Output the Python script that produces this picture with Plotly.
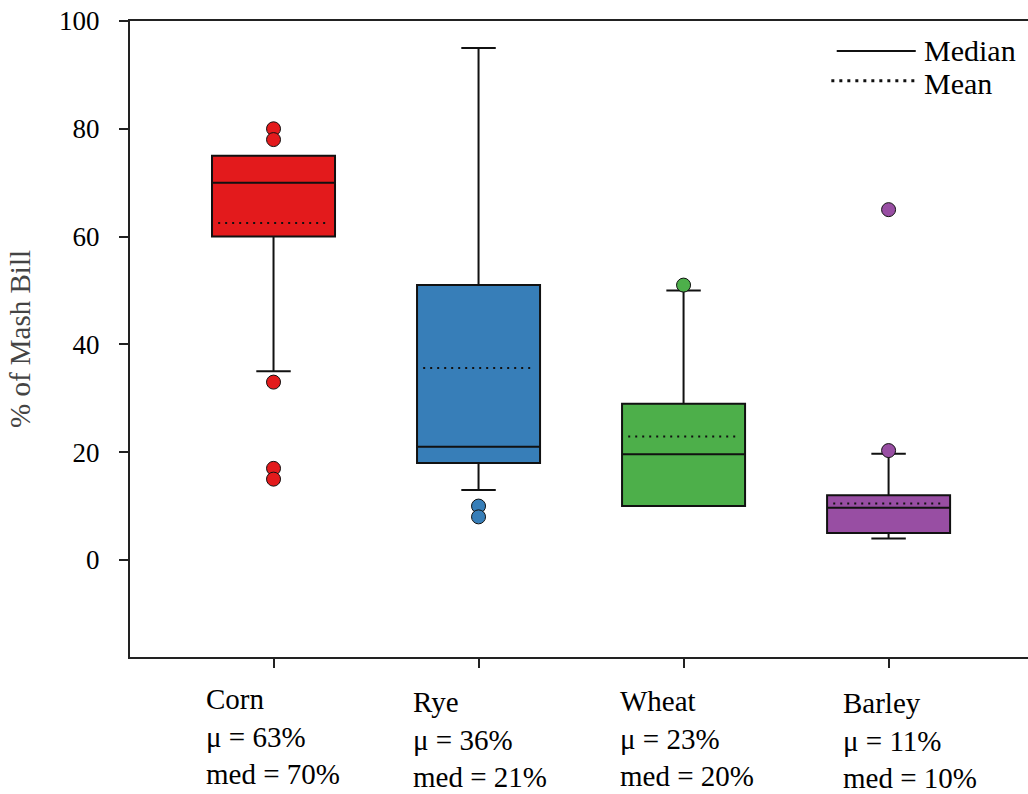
import plotly.graph_objects as go

# ---- data ----
categories = ["Corn", "Rye", "Wheat", "Barley"]
mean_pct = [63, 36, 23, 11]
median_pct = [70, 21, 20, 10]
q1 = [60, 18, 10, 5]
median = [70, 21, 19.6, 9.7]
q3 = [75, 51, 29, 12]
lower_whisker = [35, 13, 10, 4]
upper_whisker = [75, 95, 50, 19.7]
mean = [62.5, 35.6, 22.9, 10.5]
outliers = [
    [80, 78, 33, 17, 15],
    [10, 8],
    [51],
    [65, 20.3],
]
y_ticks = [0, 20, 40, 60, 80, 100]

# ---- style ----
colors = ["#E31A1C", "#377EB8", "#4DAF4A", "#984EA3"]
label_xshift = [-70, -68, -66, -48]
label_yshift = [1, -2, -1, -3]
FONT = "Liberation Serif"
BOX_W = 0.6

fig = go.Figure()
for i, cat in enumerate(categories):
    fig.add_trace(go.Box(
        x=[i], q1=[q1[i]], median=[median[i]], q3=[q3[i]],
        lowerfence=[lower_whisker[i]], upperfence=[upper_whisker[i]],
        orientation="v", width=BOX_W, whiskerwidth=0.28,
        fillcolor=colors[i], line=dict(color="#111111", width=2),
        boxpoints=False, showlegend=False, name=cat,
    ))
    fig.add_trace(go.Scatter(
        x=[i - BOX_W / 2 + 0.03, i + BOX_W / 2 - 0.03], y=[mean[i], mean[i]],
        mode="lines", line=dict(color="#111111", width=2, dash="2px,5px"),
        showlegend=False, hoverinfo="skip",
    ))
    fig.add_trace(go.Scatter(
        x=[i] * len(outliers[i]), y=outliers[i], mode="markers",
        marker=dict(color=colors[i], size=14, line=dict(color="#111111", width=1)),
        showlegend=False,
    ))
    fig.add_annotation(
        x=i, xref="x", y=-0.126, yref="paper",
        text=f"{cat}<br>\u03bc = {mean_pct[i]}%<br>med = {median_pct[i]}%",
        showarrow=False, xanchor="left", yanchor="middle", align="left",
        xshift=label_xshift[i], yshift=label_yshift[i],
        font=dict(family=FONT, size=29, color="black"),
    )

# legend (median / mean line keys)
fig.add_shape(type="line", xref="paper", yref="paper", x0=0.787, x1=0.875,
              y0=0.953, y1=0.953, line=dict(color="#111111", width=2))
fig.add_shape(type="line", xref="paper", yref="paper", x0=0.781, x1=0.875,
              y0=0.906, y1=0.906, line=dict(color="#111111", width=3, dash="3px,5px"))
fig.add_annotation(x=0.882, y=0.953, xref="paper", yref="paper", text="Median",
                   showarrow=False, xanchor="left", yanchor="middle",
                   font=dict(family=FONT, size=30, color="black"))
fig.add_annotation(x=0.882, y=0.901, xref="paper", yref="paper", text="Mean",
                   showarrow=False, xanchor="left", yanchor="middle",
                   font=dict(family=FONT, size=30, color="black"))

fig.update_layout(
    width=1028, height=794,
    margin=dict(l=130, r=0, t=21, b=137),
    paper_bgcolor="white", plot_bgcolor="white",
    showlegend=False,
    font=dict(family=FONT, size=27, color="black"),
)
fig.update_xaxes(
    range=[-0.7, 3.68], tickvals=list(range(len(categories))),
    showticklabels=False, ticks="outside", ticklen=9, tickwidth=2, tickcolor="#222",
    showline=True, linecolor="#222", linewidth=2, mirror=True,
    showgrid=False, zeroline=False,
)
fig.update_yaxes(
    range=[-18, 100], tickvals=y_ticks, ticks="outside", ticklen=9, tickwidth=2,
    tickcolor="#222", showline=True, linecolor="#222", linewidth=2,
    showgrid=False, zeroline=False, ticklabelstandoff=14,
    tickfont=dict(family=FONT, size=27, color="black"),
    title=dict(text="% of Mash Bill", font=dict(family=FONT, size=29, color="#444"),
               standoff=20),
)

fig.write_html("out.html", config={"displayModeBar": False},
               post_script="document.body.style.margin='0';")
